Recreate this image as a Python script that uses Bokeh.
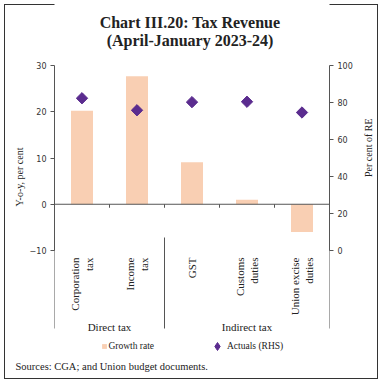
import math
from bokeh.plotting import figure
from bokeh.models import (Range1d, LinearAxis, FixedTicker, Span, Legend, LegendItem,
                          ColumnDataSource, Title, Label)
from bokeh.embed import file_html
from bokeh.resources import INLINE

# ---------------- data ----------------
categories = ["Corporation\ntax", "Income\ntax", "GST", "Customs\nduties", "Union excise\nduties"]
category_group = ["Direct tax", "Direct tax", "Indirect tax", "Indirect tax", "Indirect tax"]
growth_rate = [20.2, 27.7, 9.1, 1.0, -6.0]          # y-o-y, per cent (LHS)
actuals_rhs = [82.3, 75.8, 80.2, 80.4, 74.6]        # per cent of RE (RHS)
left_ticks = [-10, 0, 10, 20, 30]
right_ticks = [0, 20, 40, 60, 80, 100]

title_lines = ["Chart III.20: Tax Revenue", "(April-January 2023-24)"]
left_title = "Y-o-y, per cent"
right_title = "Per cent of RE"
series_names = ["Growth rate", "Actuals (RHS)"]
source_note = "Sources: CGA; and Union budget documents."

BAR = "#F9CFB3"
PURPLE = "#5B2C8F"
INK = "#222222"
AXIS = "#555555"
SERIF = "Liberation Serif"
SANS = "DejaVu Sans"

# ---------------- layout (page pixels) ----------------
W, H = 382, 383
FL, FR = 54, 330            # frame left / right
FT, FB = 0, 353             # frame top / bottom
Y_TOP, Y_BOT = 65, 250      # pixel rows of the top and bottom value ticks
n = len(categories)
y0, y1 = left_ticks[0], left_ticks[-1]
px_x = (FR - FL) / n
px_y = (Y_BOT - Y_TOP) / (y1 - y0)


def dx(px):
    return (px - FL) / px_x


def dy(py):
    return y1 - (py - Y_TOP) / px_y


r0, r1 = right_ticks[0], right_ticks[-1]
px_r = (Y_BOT - Y_TOP) / (r1 - r0)


def dr(py):
    return r1 - (py - Y_TOP) / px_r


p = figure(width=W, height=H, output_backend="svg", toolbar_location=None,
           x_range=Range1d(0, n), y_range=Range1d(dy(FB), dy(FT)),
           x_axis_location=None, y_axis_location=None, title=None,
           min_border_left=FL, min_border_right=W - FR,
           min_border_top=FT, min_border_bottom=H - FB,
           background_fill_color="white", border_fill_color=None,
           outline_line_color=None)
p.styles = {"outline": "1.5px solid #333333", "outline-offset": "-5px"}
# "legend_key" keeps the legend-only diamond renderer outside the visible frame
p.extra_y_ranges = {"rhs": Range1d(dr(FB), dr(FT)),
                    "legend_key": Range1d(-2000, -1000)}

x_pos = [i + 0.5 for i in range(n)]
src = ColumnDataSource(dict(x=x_pos, growth=growth_rate, actuals=actuals_rhs))

bars = p.vbar(x="x", top="growth", bottom=0, width=0.4, source=src,
              fill_color=BAR, line_color=None)
pts = p.scatter(x="x", y="actuals", source=src, y_range_name="rhs",
                marker="square", angle=math.pi / 4, size=8,
                fill_color=PURPLE, line_color=PURPLE)
pts_key = p.scatter(x="x", y="actuals", source=src, y_range_name="legend_key",
                    marker="diamond", size=8, fill_color=PURPLE, line_color=PURPLE)

# zero line with small ticks between categories
p.add_layout(Span(location=0, dimension="width", line_color=AXIS, line_width=1))
bounds = list(range(1, n))
p.segment(x0=bounds, y0=[0] * len(bounds), x1=bounds, y1=[-3.5 / px_y] * len(bounds),
          line_color=AXIS, line_width=1)

# ---------------- value axes ----------------
common = dict(major_tick_in=0, major_tick_out=4, minor_tick_line_color=None,
              axis_line_color=AXIS, major_tick_line_color=AXIS,
              major_label_text_font=SANS, major_label_text_font_size="8px",
              major_label_text_color="#333333", major_label_standoff=4,
              axis_label_text_font=SERIF, axis_label_text_font_size="10px",
              axis_label_text_font_style="normal", axis_label_text_color=INK)
lax = LinearAxis(ticker=FixedTicker(ticks=left_ticks), bounds=(y0, y1),
                 axis_label=left_title, axis_label_standoff=2, **common)
rax = LinearAxis(ticker=FixedTicker(ticks=right_ticks), y_range_name="rhs",
                 bounds=(r0, r1), axis_label=right_title, axis_label_standoff=13,
                 **common)
if "axis_label_orientation" in LinearAxis.properties():
    rax.axis_label_orientation = math.pi / 2
p.add_layout(lax, "left")
p.add_layout(rax, "right")

# group separators: line-only axes at group edges
edges = [0]
for g in dict.fromkeys(category_group):
    edges.append(edges[-1] + category_group.count(g))
for e in edges:
    sax = LinearAxis(fixed_location=e, bounds=(dy(328), dy(237)),
                     ticker=FixedTicker(ticks=[]), major_tick_in=0, major_tick_out=0,
                     minor_tick_in=0, minor_tick_out=0, minor_tick_line_color=None,
                     major_tick_line_color=None, major_label_text_font_size="0px",
                     axis_line_color=AXIS, axis_line_width=1)
    p.add_layout(sax, "left")

# ---------------- category and group labels ----------------
for xp, lbl in zip(x_pos, categories):
    p.add_layout(Label(x=xp, y=dy(257), text=lbl, angle=math.pi / 2,
                       text_align="right", text_baseline="middle",
                       text_font=SERIF, text_font_size="11px", text_color=INK))
for gname, a, b in zip(dict.fromkeys(category_group), edges[:-1], edges[1:]):
    p.add_layout(Label(x=(a + b) / 2, y=dy(326), text=gname, text_align="center",
                       text_baseline="middle", text_font=SERIF,
                       text_font_size="11px", text_color=INK))

# ---------------- title ----------------
for line, py in zip(title_lines, [22, 40]):
    p.add_layout(Label(x=dx(190), y=dy(py), text=line, text_align="center",
                       text_baseline="middle", text_font=SERIF,
                       text_font_style="bold", text_font_size="16px",
                       text_color=INK))

# ---------------- legends ----------------
leg_common = dict(orientation="horizontal", padding=0, margin=0, spacing=0,
                  border_line_color=None, background_fill_alpha=0,
                  label_text_font=SERIF, label_text_font_size="9.5px",
                  label_text_color=INK, label_height=12)
leg1 = Legend(items=[LegendItem(label=series_names[0], renderers=[bars])],
              location=(dx(101.4) * px_x, FB - 352), glyph_width=6, glyph_height=6,
              label_standoff=1, **leg_common)
leg2 = Legend(items=[LegendItem(label=series_names[1], renderers=[pts_key])],
              location=(dx(207) * px_x, FB - 356), glyph_width=20, glyph_height=20,
              label_standoff=0, **leg_common)
p.add_layout(leg1)
p.add_layout(leg2)

# ---------------- source note ----------------
p.add_layout(Title(text=source_note, align="left", offset=15 - FL, text_font=SERIF,
                   text_font_size="10.5px", text_font_style="normal",
                   text_color=INK), "below")

p.grid.visible = False

open("out.html", "w").write(file_html(p, INLINE))
